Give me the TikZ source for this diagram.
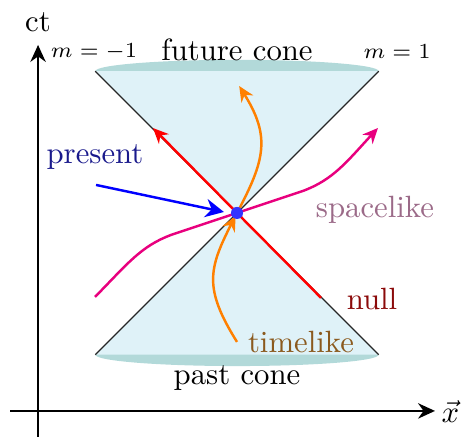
\documentclass[tikz,border=0pt]{standalone}
\usepackage{amsmath,amssymb}
\usepackage{xcolor}
\usepackage{tikz}
\usetikzlibrary{arrows.meta,positioning,calc}
\definecolor{cCone}{HTML}{DFF2F8}
\definecolor{cCap}{HTML}{B2D9D9}
\definecolor{cDot}{HTML}{3333FF}
\definecolor{cNullLine}{HTML}{FF0000}
\definecolor{cSpaceLine}{HTML}{E8007E}
\definecolor{cTimeLine}{HTML}{FF8000}
\definecolor{cPresent}{HTML}{1A1A8C}
\definecolor{cSpace}{HTML}{9B6A88}
\definecolor{cNull}{HTML}{8B0A0A}
\definecolor{cTime}{HTML}{8B5A1E}
\tikzset{
  axis/.style={-{Stealth[length=5.5pt,width=5pt]},line width=0.7pt,black},
  edge/.style={line width=0.4pt,black!85},
  world/.style={-{Stealth[length=5pt,width=4.5pt]},line width=0.8pt,color=#1},
  lbl/.style={font=\normalsize,text=#1,inner sep=1pt},
  lbl/.default=black,
  mlbl/.style={font=\scriptsize,inner sep=1pt},
}
\begin{document}
\begin{tikzpicture}[x=1cm,y=1cm]
    \useasboundingbox (-2.709,-2.56) rectangle (2.606,2.434);
    % cone
    \coordinate (ev) at (0,0);
    \coordinate (tl) at (-1.62,1.62);
    \coordinate (tr) at (1.62,1.62);
    \coordinate (bl) at (-1.62,-1.62);
    \coordinate (br) at (1.62,-1.62);
    \fill[cCap] (0,1.62) ellipse (1.62 and 0.13);
    \fill[cCap] (0,-1.62) ellipse (1.62 and 0.13);
    \fill[cCone] (tl) -- (tr) -- (ev) -- cycle;
    \fill[cCone] (bl) -- (br) -- (ev) -- cycle;
    \draw[edge] (tl) -- (br);
    \draw[edge] (tr) -- (bl);
    % axes
    \coordinate (ya) at (-2.274,-2.56);
    \coordinate (yb) at (-2.274,1.92);
    \coordinate (xa) at (-2.594,-2.263);
    \coordinate (xb) at (2.263,-2.263);
    \draw[axis] (ya) -- (yb);
    \draw[axis] (xa) -- (xb);
    \node[lbl] (ct) at (-2.274,2.18) {ct};
    \node[lbl] (xvec) at (2.44,-2.27) {$\vec{x}$};
    % labels
    \node[lbl] (future) at (0,1.863) {future cone};
    \node[lbl] (past) at (0,-1.886) {past cone};
    \node[mlbl] (mneg) at (-1.634,1.84) {$m=-1$};
    \node[mlbl] (mpos) at (1.83,1.84) {$m=1$};
    \node[lbl=cPresent] (present) at (-1.623,0.64) {present};
    \node[lbl=cSpace] (space) at (1.577,0.034) {spacelike};
    \node[lbl=cNull] (null) at (1.543,-0.983) {null};
    \node[lbl=cTime] (time) at (0.731,-1.474) {timelike};
    % world lines
    \coordinate (n0) at (0.96,-0.97);
    \coordinate (n1) at (-0.96,0.97);
    \coordinate (s0) at (-1.623,-0.96);
    \coordinate (s1) at (1.611,0.971);
    \coordinate (t0) at (0,-1.474);
    \coordinate (t1) at (0.025,1.451);
    \coordinate (p0) at (-1.611,0.32);
    \coordinate (p1) at (-0.15,0.011);
    \draw[world=cNullLine] (n0) -- (n1);
    \draw[world=cSpaceLine] (s0) .. controls (-1.25,-0.58) and (-1.1,-0.38) .. (-0.75,-0.25)
      -- (ev) -- (0.75,0.25) .. controls (1.1,0.38) and (1.25,0.58) .. (s1);
    \draw[world=cTimeLine,shorten >=1pt] (t0) to[out=122,in=243,looseness=1.25] (ev);
    \draw[world=cTimeLine] (ev) to[out=62,in=-58,looseness=1.2] (t1);
    \draw[world=blue,-{Stealth[length=6pt,width=6pt]}] (p0) -- (p1);
    \fill[cDot] (ev) circle (0.069);
  \end{tikzpicture}
\end{document}
